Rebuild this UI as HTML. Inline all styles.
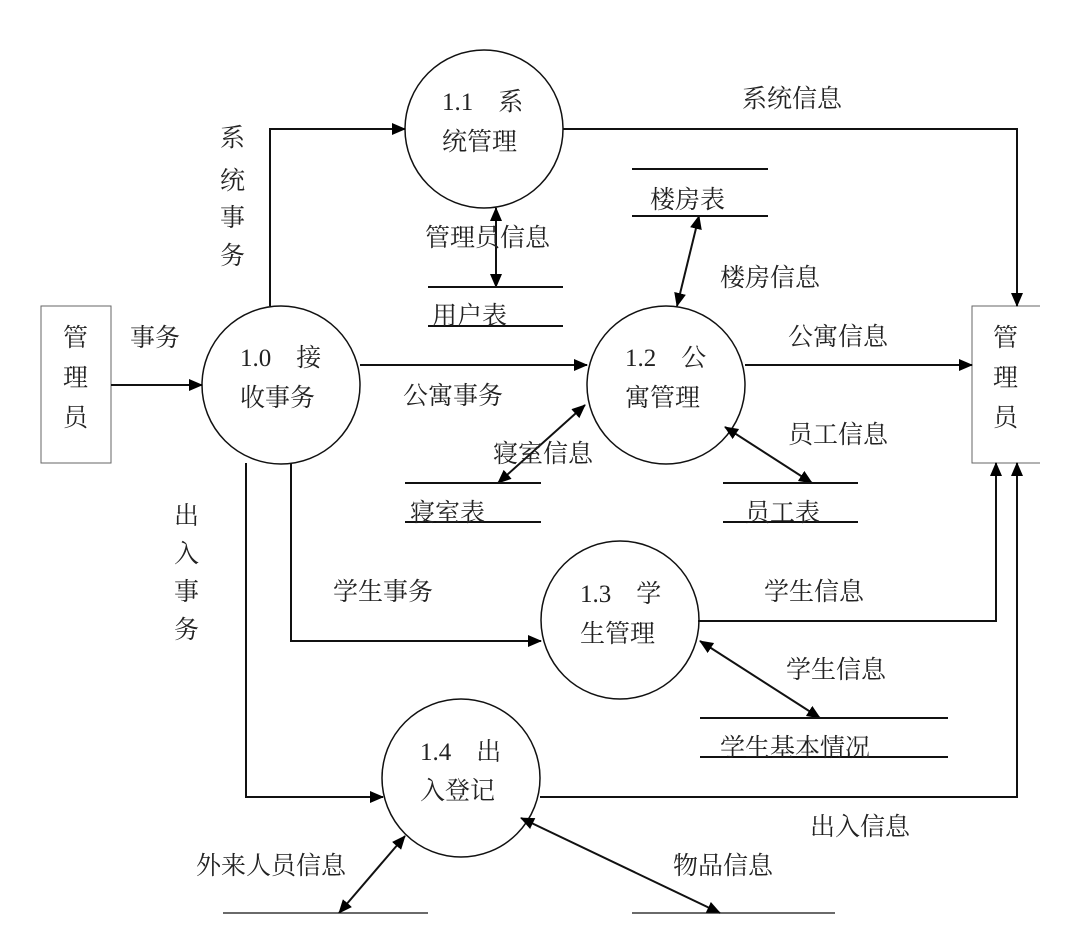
<!DOCTYPE html>
<html><head><meta charset="utf-8"><style>
html,body{margin:0;padding:0;background:#fff;}
svg text{font-family:"Liberation Serif","Noto Serif CJK SC","Noto Sans CJK SC",serif;font-size:25px;fill:#222;}
</style></head><body>
<svg width="1080" height="943" viewBox="0 0 1080 943" xmlns="http://www.w3.org/2000/svg">
<defs>
<marker id="a" markerWidth="14" markerHeight="12" refX="13" refY="6" orient="auto" markerUnits="userSpaceOnUse" viewBox="0 0 14 12"><path d="M0,0 L14,6 L0,12 z" fill="#000"/></marker>
<marker id="b" markerWidth="14" markerHeight="12" refX="1" refY="6" orient="auto" markerUnits="userSpaceOnUse" viewBox="0 0 14 12"><path d="M14,0 L0,6 L14,12 z" fill="#000"/></marker>
</defs>
<g fill="none" stroke="#111" stroke-width="1.5">
<circle cx="484" cy="129" r="79"/>
<circle cx="281" cy="385" r="79"/>
<circle cx="666" cy="385" r="79"/>
<ellipse cx="620" cy="620" rx="79" ry="79"/>
<ellipse cx="461" cy="778" rx="79" ry="79"/>
<rect x="41" y="306" width="70" height="157" stroke="#666" stroke-width="1"/>
<path d="M1040 306 H972 V463 H1040" stroke="#666" stroke-width="1"/>
</g>
<g stroke="#111" stroke-width="2" fill="none">
<line x1="111" y1="385" x2="202" y2="385" marker-end="url(#a)"/>
<polyline points="270,306 270,129 405,129" marker-end="url(#a)"/>
<line x1="360" y1="365" x2="587" y2="365" marker-end="url(#a)"/>
<polyline points="563,129 1017,129 1017,306" marker-end="url(#a)"/>
<line x1="745" y1="365" x2="972" y2="365" marker-end="url(#a)"/>
<line x1="496" y1="208" x2="496" y2="287" marker-end="url(#a)" marker-start="url(#b)"/>
<line x1="699" y1="216" x2="677" y2="306" marker-end="url(#a)" marker-start="url(#b)"/>
<line x1="498" y1="483" x2="585" y2="405" marker-end="url(#a)" marker-start="url(#b)"/>
<line x1="725" y1="427" x2="812" y2="483" marker-start="url(#b)" marker-end="url(#a)"/>
<polyline points="291,463 291,641 541,641" marker-end="url(#a)"/>
<polyline points="698,621 996,621 996,463" marker-end="url(#a)"/>
<line x1="700" y1="641" x2="820" y2="718" marker-start="url(#b)" marker-end="url(#a)"/>
<polyline points="246,463 246,797 383,797" marker-end="url(#a)"/>
<polyline points="540,797 1017,797 1017,463" marker-end="url(#a)"/>
<line x1="339" y1="913" x2="405" y2="836" marker-start="url(#b)" marker-end="url(#a)"/>
<line x1="521" y1="818" x2="720" y2="913" marker-start="url(#b)" marker-end="url(#a)"/>
</g>
<g stroke="#111" stroke-width="2">
<line x1="428" y1="287" x2="563" y2="287"/><line x1="428" y1="326" x2="563" y2="326"/>
<line x1="632" y1="169" x2="768" y2="169"/><line x1="632" y1="216" x2="768" y2="216"/>
<line x1="405" y1="483" x2="541" y2="483"/><line x1="405" y1="522" x2="541" y2="522"/>
<line x1="723" y1="483" x2="858" y2="483"/><line x1="723" y1="522" x2="858" y2="522"/>
<line x1="700" y1="718" x2="948" y2="718"/><line x1="700" y1="757" x2="948" y2="757"/>
<line x1="223" y1="913" x2="428" y2="913" stroke-width="1.2"/><line x1="632" y1="913" x2="835" y2="913" stroke-width="1.2"/>
</g>
<text x="442" y="110">1.1　系</text><text x="442" y="150">统管理</text>
<text x="240" y="366">1.0　接</text><text x="240" y="406">收事务</text>
<text x="625" y="366">1.2　公</text><text x="625" y="406">寓管理</text>
<text x="580" y="602">1.3　学</text><text x="580" y="642">生管理</text>
<text x="420" y="760">1.4　出</text><text x="420" y="799">入登记</text>
<text x="63" y="346">管</text><text x="63" y="386">理</text><text x="63" y="426">员</text>
<text x="993" y="346">管</text><text x="993" y="386">理</text><text x="993" y="426">员</text>
<text x="130" y="346">事务</text>
<text x="220" y="146">系</text><text x="220" y="189">统</text><text x="220" y="226">事</text><text x="220" y="264">务</text>
<text x="174" y="524">出</text><text x="174" y="562">入</text><text x="174" y="600">事</text><text x="174" y="638">务</text>
<text x="742" y="107">系统信息</text>
<text x="650" y="208">楼房表</text>
<text x="425" y="246">管理员信息</text>
<text x="720" y="286">楼房信息</text>
<text x="432" y="324">用户表</text>
<text x="788" y="345">公寓信息</text>
<text x="403" y="404">公寓事务</text>
<text x="788" y="443">员工信息</text>
<text x="493" y="462">寝室信息</text>
<text x="410" y="521">寝室表</text>
<text x="745" y="521">员工表</text>
<text x="333" y="600">学生事务</text>
<text x="764" y="600">学生信息</text>
<text x="786" y="678">学生信息</text>
<text x="720" y="756">学生基本情况</text>
<text x="810" y="835">出入信息</text>
<text x="196" y="874">外来人员信息</text>
<text x="673" y="874">物品信息</text>
</svg>
</body></html>
